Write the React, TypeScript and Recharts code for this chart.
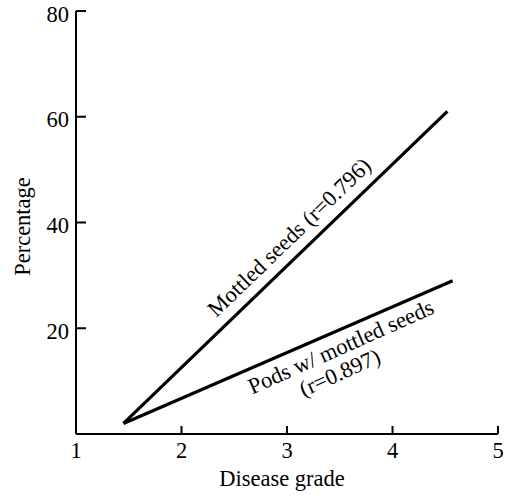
import React from 'react';
import { LineChart, Line, XAxis, YAxis, ReferenceDot } from 'recharts';

const xTicks = [1, 2, 3, 4, 5];
const yTicks = [20, 40, 60, 80];

const mottledSeeds = [
  { grade: 1.45, pct: 2 },
  { grade: 4.52, pct: 61 },
];
const podsMottled = [
  { grade: 1.45, pct: 2 },
  { grade: 4.57, pct: 29 },
];

const annotations = [
  { text: 'Mottled seeds (r=0.796)', grade: 3.02, pct: 37.2, angle: -44 },
  { text: 'Pods w/ mottled seeds', grade: 3.51, pct: 16.5, angle: -24 },
  { text: '(r=0.897)', grade: 3.5, pct: 11.6, angle: -24 },
];

const FONT = '"Liberation Serif", "DejaVu Serif", serif';

const YTick = (props: any) => {
  const { x, y, payload } = props;
  return (
    <g>
      <line x1={x} y1={y} x2={x + 10} y2={y} stroke="#000" strokeWidth={2} />
      <text x={x - 7} y={y + 3} textAnchor="end" dominantBaseline="central" fontFamily={FONT} fontSize={22.5} fill="#000">
        {payload.value}
      </text>
    </g>
  );
};

const XTick = (props: any) => {
  const { x, y, payload } = props;
  return (
    <g>
      <line x1={x} y1={y} x2={x} y2={y - 8} stroke="#000" strokeWidth={2} />
      <text x={x} y={y + 24} textAnchor="middle" fontFamily={FONT} fontSize={22.5} fill="#000">
        {payload.value}
      </text>
    </g>
  );
};

const AnnotationShape = (text: string, angle: number) => (props: any) => {
  const { cx, cy } = props;
  return (
    <text
      x={cx}
      y={cy}
      textAnchor="middle"
      dominantBaseline="central"
      transform={`rotate(${angle}, ${cx}, ${cy})`}
      fontFamily={FONT}
      fontSize={22.5}
      fill="#000"
    >
      {text}
    </text>
  );
};

export default function App() {
  return (
    <div style={{ position: 'absolute', left: 0, top: 0, background: '#fff' }}>
      <LineChart width={507} height={497} margin={{ top: 11, right: 9, bottom: 0, left: 0 }}>
        <XAxis
          type="number"
          dataKey="grade"
          domain={[1, 5]}
          ticks={xTicks}
          allowDataOverflow
          height={63}
          axisLine={{ stroke: '#000', strokeWidth: 2 }}
          tickLine={false}
          tickSize={0}
          tickMargin={0}
          tick={<XTick />}
          label={{
            content: (p: any) => {
              const vb = p.viewBox;
              return (
                <text x={vb.x + vb.width / 2 - 5} y={vb.y + 52} textAnchor="middle" fontFamily={FONT} fontSize={22.5} fill="#000">
                  Disease grade
                </text>
              );
            },
          }}
        />
        <YAxis
          type="number"
          dataKey="pct"
          domain={[0, 80]}
          ticks={yTicks}
          allowDataOverflow
          width={76}
          axisLine={{ stroke: '#000', strokeWidth: 2 }}
          tickLine={false}
          tickSize={0}
          tickMargin={0}
          tick={<YTick />}
          label={{
            content: (p: any) => {
              const vb = p.viewBox;
              const cx = 22;
              const cy = vb.y + vb.height / 2 + 4;
              return (
                <text x={cx} y={cy} textAnchor="middle" dominantBaseline="central" transform={`rotate(-90, ${cx}, ${cy})`} fontFamily={FONT} fontSize={22.5} fill="#000">
                  Percentage
                </text>
              );
            },
          }}
        />
        <Line data={mottledSeeds} dataKey="pct" stroke="#000" strokeWidth={3.2} dot={false} isAnimationActive={false} />
        <Line data={podsMottled} dataKey="pct" stroke="#000" strokeWidth={3.2} dot={false} isAnimationActive={false} />
        {annotations.map((a) => (
          <ReferenceDot key={a.text} x={a.grade} y={a.pct} r={0} shape={AnnotationShape(a.text, a.angle)} />
        ))}
      </LineChart>
    </div>
  );
}
